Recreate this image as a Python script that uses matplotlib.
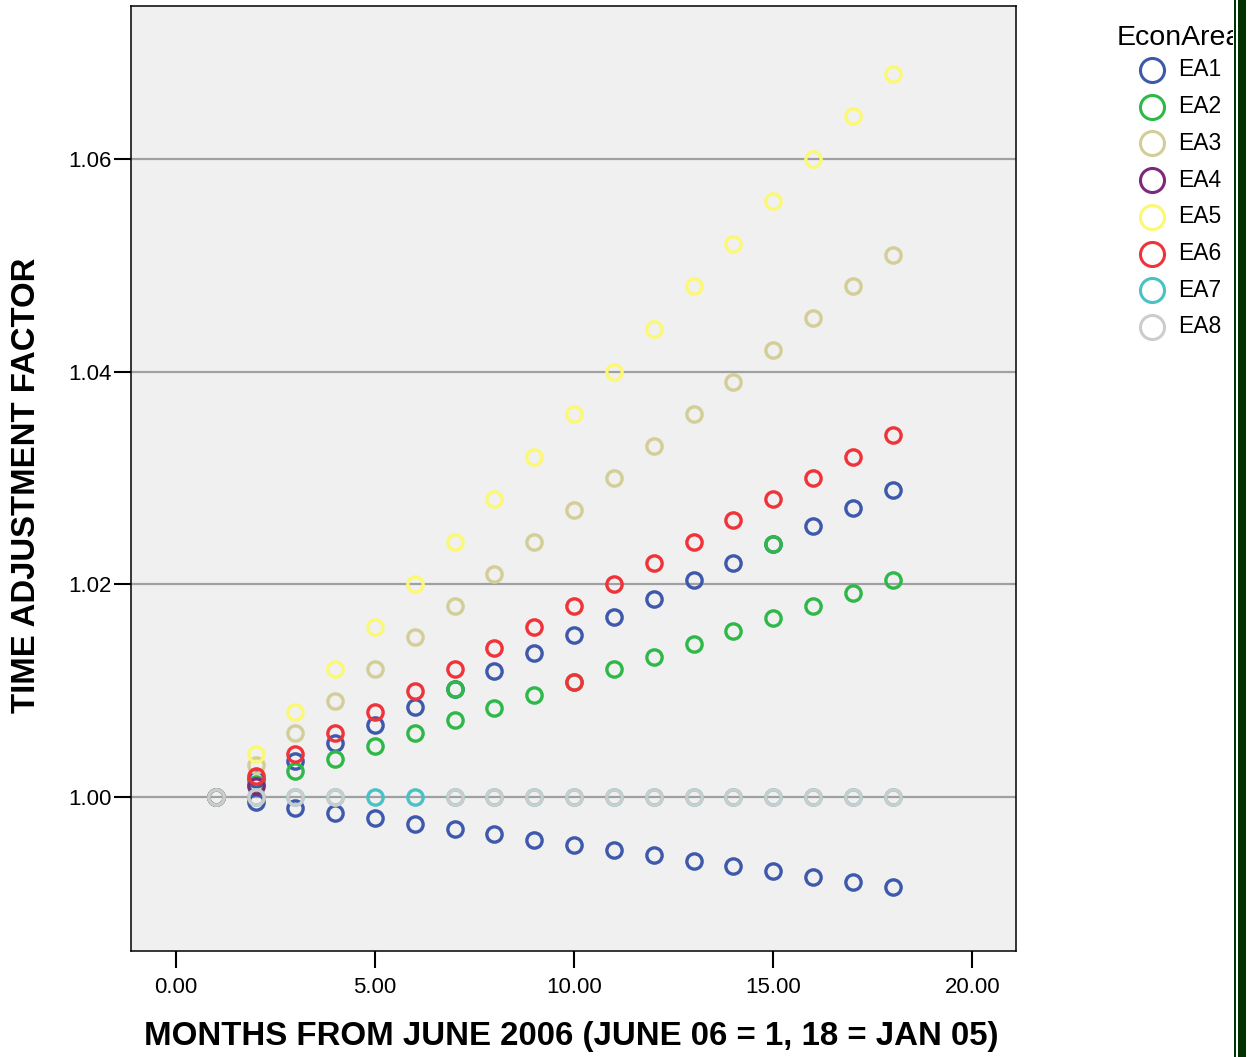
import matplotlib
matplotlib.use('Agg')
import matplotlib.pyplot as plt
from matplotlib.lines import Line2D
from matplotlib.patches import Rectangle

# ---------------- data ----------------
months = [1, 2, 3, 4, 5, 6, 7, 8, 9, 10, 11, 12, 13, 14, 15, 16, 17, 18]

ea1_upper = [1.0000, 1.0017, 1.0034, 1.0051, 1.0068, 1.0085, 1.0102, 1.0118, 1.0135,
             1.0152, 1.0169, 1.0186, 1.0204, 1.0220, 1.0238, 1.0255, 1.0272, 1.0289]
ea1_lower = [1.0000, 0.9995, 0.9990, 0.9985, 0.9980, 0.9975, 0.9970, 0.9965, 0.9960,
             0.9955, 0.9950, 0.9945, 0.9940, 0.9935, 0.9930, 0.9925, 0.9920, 0.9915]
ea2 = [1.0000, 1.0012, 1.0024, 1.0036, 1.0048, 1.0060, 1.0072, 1.0084, 1.0096,
       1.0108, 1.0120, 1.0132, 1.0144, 1.0156, 1.0168, 1.0180, 1.0192, 1.0204]
ea2_extra_months = [7, 15]
ea2_extra = [1.0102, 1.0238]
ea3 = [1.000, 1.003, 1.006, 1.009, 1.012, 1.015, 1.018, 1.021, 1.024,
       1.027, 1.030, 1.033, 1.036, 1.039, 1.042, 1.045, 1.048, 1.051]
ea4_months = [1, 2]
ea4 = [1.0000, 1.0010]
ea5 = [1.000, 1.004, 1.008, 1.012, 1.016, 1.020, 1.024, 1.028, 1.032,
       1.036, 1.040, 1.044, 1.048, 1.052, 1.056, 1.060, 1.064, 1.068]
ea6 = [1.000, 1.002, 1.004, 1.006, 1.008, 1.010, 1.012, 1.014, 1.016,
       1.018, 1.020, 1.022, 1.024, 1.026, 1.028, 1.030, 1.032, 1.034]
ea6_extra_months = [10]
ea6_extra = [1.0108]
ea7 = [1.0, 1.0, 1.0, 1.0, 1.0, 1.0, 1.0, 1.0, 1.0,
       1.0, 1.0, 1.0, 1.0, 1.0, 1.0, 1.0, 1.0, 1.0]
ea8_months = [1, 2, 3, 4, 7, 8, 9, 10, 11, 12, 13, 14, 15, 16, 17, 18]
ea8 = [1.0, 1.0, 1.0, 1.0, 1.0, 1.0, 1.0, 1.0,
       1.0, 1.0, 1.0, 1.0, 1.0, 1.0, 1.0, 1.0]

area_names = ['EA1', 'EA2', 'EA3', 'EA4', 'EA5', 'EA6', 'EA7', 'EA8']
area_colors = ['#3E58AC', '#2EB848', '#D3CE97', '#7C287D',
               '#FBF873', '#EF3338', '#48C2C5', '#CCCCCC']

series = [
    (0, months, ea1_upper), (0, months, ea1_lower),
    (1, months, ea2), (1, ea2_extra_months, ea2_extra),
    (2, months, ea3),
    (3, ea4_months, ea4),
    (4, months, ea5),
    (5, months, ea6), (5, ea6_extra_months, ea6_extra),
    (6, months, ea7),
    (7, ea8_months, ea8),
]

x_ticks = [0, 5, 10, 15, 20]
y_ticks = [1.00, 1.02, 1.04, 1.06]

# ---------------- figure ----------------
W, H = 1251, 1057
fig = plt.figure(figsize=(W / 100, H / 100), dpi=100)
fig.patch.set_facecolor('white')

def fx(px):
    return px / W

def fy(py):
    return 1 - py / H

ax = fig.add_axes([fx(131), fy(951), fx(1016) - fx(131), fy(6) - fy(951)])
ax.set_facecolor('#F0F0F0')

for z, (ci, xs, ys) in enumerate(series):
    ax.plot(xs, ys, linestyle='none', marker='o', markersize=11,
            markerfacecolor='none', markeredgecolor=area_colors[ci],
            markeredgewidth=2.4, zorder=3 + z * 0.1, clip_on=False)

ax.set_xlim(-1.13, 21.1)
ax.set_ylim(0.98552, 1.07437)
ax.set_xticks(x_ticks)
ax.set_xticklabels(['%.2f' % v for v in x_ticks], fontsize=16,
                   family='Liberation Sans')
ax.set_yticks(y_ticks)
ax.set_yticklabels(['%.2f' % v for v in y_ticks], fontsize=16,
                   family='Liberation Sans')

ax.yaxis.grid(True, color='#A0A0A0', linewidth=1.6, zorder=1)
ax.set_axisbelow(True)
for s in ax.spines.values():
    s.set_color('black')
    s.set_linewidth(1.1)

ax.tick_params(axis='y', direction='out', length=12, width=1.5, pad=2,
               colors='black')
ax.tick_params(axis='x', direction='out', length=12, width=1.5, pad=7,
               colors='black')

fig.text(fx(27), fy(485), 'TIME ADJUSTMENT FACTOR', rotation=90,
         ha='center', va='center', fontsize=23.7, fontweight='bold',
         family='Liberation Sans')
fig.text(fx(571), fy(1036), 'MONTHS FROM JUNE 2006 (JUNE 06 = 1, 18 = JAN 05)',
         ha='center', va='center', fontsize=23.8, fontweight='bold',
         family='Liberation Sans')

# ---------------- legend ----------------
fig.text(fx(1117), fy(38), 'EconArea', ha='left', va='center', fontsize=20.5,
         family='Liberation Sans', zorder=5)
row_y = 70
row_step = 36.7
for i, (name, col) in enumerate(zip(area_names, area_colors)):
    yy = row_y + i * row_step
    fig.add_artist(Line2D([fx(1152)], [fy(yy)], linestyle='none', marker='o',
                          markersize=17.3, markerfacecolor='none',
                          markeredgecolor=col, markeredgewidth=2.2,
                          transform=fig.transFigure, zorder=5))
    fig.text(fx(1178), fy(yy), name, ha='left', va='center', fontsize=16.5,
             family='Liberation Sans', zorder=5)

# clipping strip and dark green border at the right edge
fig.add_artist(Rectangle((fx(1233), 0), fx(W) - fx(1233), 1,
                         transform=fig.transFigure, facecolor='white',
                         edgecolor='none', zorder=10))
fig.add_artist(Rectangle((fx(1234), 0), fx(1236) - fx(1234), 1,
                         transform=fig.transFigure, facecolor='#003300',
                         edgecolor='none', zorder=11))
fig.add_artist(Rectangle((fx(1238), 0), fx(1246) - fx(1238), 1,
                         transform=fig.transFigure, facecolor='#003300',
                         edgecolor='none', zorder=11))

fig.savefig('out.png', dpi=100)
